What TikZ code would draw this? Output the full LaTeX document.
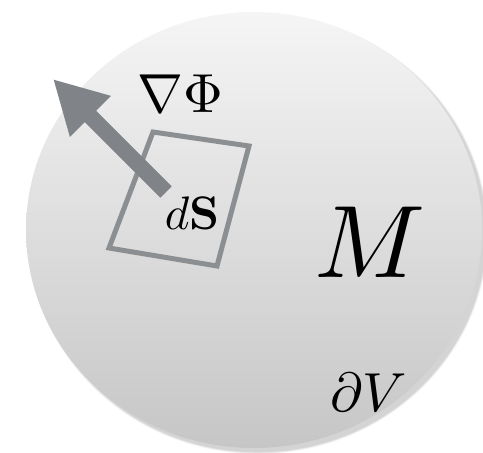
\documentclass[tikz,border=0pt]{standalone}
\usetikzlibrary{arrows.meta}
\definecolor{arrowgray}{RGB}{128,131,136}
\definecolor{boxgray}{RGB}{140,143,146}
\definecolor{toplight}{RGB}{245,245,245}
\definecolor{botdark}{RGB}{198,198,198}
\tikzset{
  lbl/.style={inner sep=0pt, text=black, transform shape},
}
\begin{document}
\begin{tikzpicture}[x=1pt,y=1pt]
\useasboundingbox (0,0) rectangle (483,-453);
% soft shadow
\foreach \o/\a in {10/0.03,8/0.04,6/0.05,4/0.06}{
  \fill[black,opacity=\a] (258,-234) ellipse [x radius=227+\o*0.3, y radius=217+\o*0.3];
}
\shade[top color=toplight, bottom color=botdark] (254,-230) ellipse [x radius=228, y radius=218];
% surface element
\coordinate (s1) at (153,-132);
\coordinate (s2) at (249,-146);
\coordinate (s3) at (217,-266);
\coordinate (s4) at (109,-248);
\draw[boxgray, line width=5pt, line join=miter] (s1) -- (s2) -- (s3) -- (s4) -- cycle;
% gradient arrow
\coordinate (tail) at (166,-192);
\coordinate (tip) at (53,-79);
\draw[arrowgray, line width=16pt, -{Triangle[length=53pt,width=54pt]}] (tail) -- (tip);
% labels
\node[lbl, scale=5.5] (grad) at (180,-94) {$\nabla\Phi$};
\node[lbl, scale=4.7] (dS) at (192,-213) {$d\mathbf{S}$};
\node[lbl, scale=10.3] (M) at (370,-242) {$M$};
\node[lbl, scale=5.5] (dV) at (369,-392) {$\partial V$};
\end{tikzpicture}
\end{document}
